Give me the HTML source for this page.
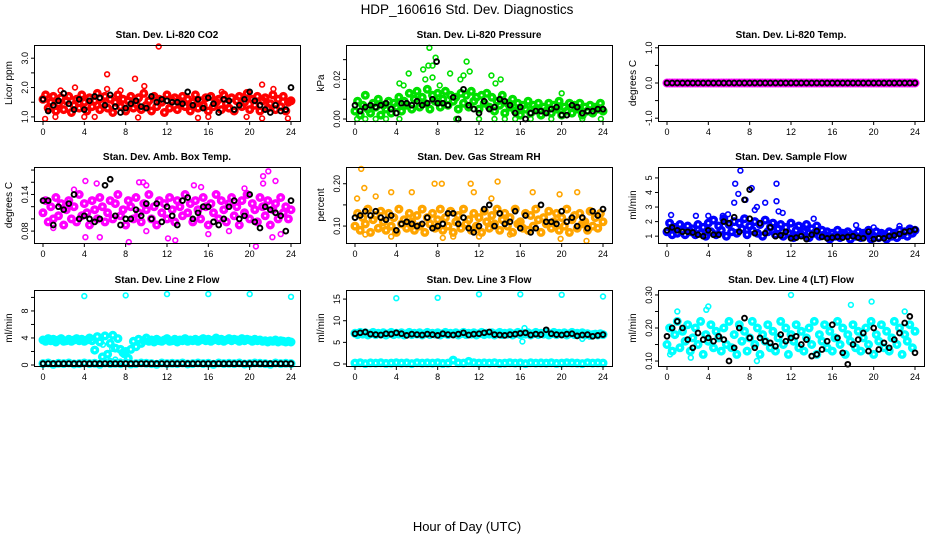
<!DOCTYPE html>
<html><head><meta charset="utf-8"><style>
html,body{margin:0;padding:0;background:#fff;}
svg{display:block;font-family:"Liberation Sans",Arial,sans-serif;}
</style></head><body>
<svg id="chart" width="936" height="540" viewBox="0 0 936 540">
<text x="467" y="14" text-anchor="middle" font-size="13.5">HDP_160616  Std. Dev. Diagnostics</text>
<text x="467" y="531" text-anchor="middle" font-size="13">Hour of Day (UTC)</text>
</svg>
<script>
// ---- data arrays (dense series are evenly spaced over 0-24 h) ----
const xTicks = [0,4,8,12,16,20,24];

const co2Color = [1.6,1.75,1.3,1.5,1.7,1.2,1.45,1.65,1.25,1.55,1.7,1.15,1.4,1.6,1.3,1.75,1.5,1.2,1.65,1.35,1.55,1.8,1.25,1.45,1.7,1.3,1.6,1.15,1.5,1.75,1.35,1.6,1.2,1.55,1.7,1.3,1.45,1.65,1.25,1.8,1.4,1.55,1.2,1.7,1.35,1.6,1.5,1.15,1.75,1.3,1.55,1.65,1.25,1.45,1.7,1.35,1.6,1.2,1.5,1.75,1.3,1.55,1.4,1.65,1.2,1.7,1.35,1.5,1.6,1.25,1.75,1.45,1.3,1.65,1.2,1.55,1.7,1.35,1.5,1.8,1.25,1.6,1.4,1.7,1.2,1.55,1.65,1.3,1.45,1.75,1.25,1.6,1.35,1.7,1.2,1.5,1.55];
const co2Black = [1.6,1.2,1.4,1.55,1.8,1.45,1.25,1.6,1.25,1.55,1.7,1.65,1.4,1.75,1.35,1.15,1.3,1.45,1.55,1.35,1.3,1.7,1.5,1.6,1.55,1.5,1.5,1.45,1.85,1.4,1.6,1.3,1.65,1.45,1.15,1.6,1.55,1.25,1.4,1.6,1.85,1.55,1.4,1.25,1.15,1.4,1.2,1.25,2.0];
const co2Extra = [[6.2,2.45],[6.2,1.95],[8.9,2.3],[11.2,3.4],[9.8,2.05],[3.1,2.0],[0.2,0.93],[21.2,2.1],[22.3,1.95],[1.7,1.9],[7.5,1.9],[17.3,1.85],[4,1.0],[5,1.0],[9.2,0.98],[15,0.97],[21.2,0.95],[23.7,0.95],[1.2,1.0],[19.7,1.0],[16,1.0]];

const presColor = [0.004,0.009,0.002,0.007,0.012,0.005,0.003,0.008,0.006,0.01,0.002,0.007,0.005,0.009,0.003,0.008,0.006,0.011,0.004,0.009,0.007,0.013,0.005,0.01,0.014,0.006,0.011,0.008,0.015,0.005,0.012,0.009,0.013,0.006,0.01,0.014,0.007,0.012,0.009,0.011,0.005,0.013,0.008,0.012,0.006,0.014,0.009,0.011,0.005,0.012,0.008,0.013,0.006,0.011,0.004,0.009,0.007,0.012,0.003,0.008,0.006,0.01,0.004,0.008,0.002,0.007,0.005,0.009,0.003,0.007,0.005,0.008,0.002,0.006,0.004,0.008,0.003,0.007,0.005,0.009,0.002,0.006,0.004,0.008,0.003,0.007,0.005,0.008,0.002,0.006,0.004,0.007,0.003,0.006,0.005,0.008,0.004];
const presBlack = [0.007,0.004,0.006,0.007,0.006,0.007,0.008,0.005,0.003,0.008,0.008,0.007,0.009,0.007,0.008,0.01,0.008,0.008,0.007,0.011,0,0.015,0.007,0.005,0.003,0.009,0.005,0.006,0.01,0.009,0.007,0.003,0.006,0,0.003,0.004,0.004,0.003,0.005,0.006,0.002,0.002,0.007,0.006,0.003,0.004,0.004,0.005,0.005];
const presExtra = [[7.2,0.036],[7.8,0.031],[7.5,0.027],[7.1,0.027],[6.6,0.025],[5.2,0.023],[9.2,0.023],[10.8,0.029],[11.1,0.024],[10.5,0.022],[10.2,0.02],[13.2,0.022],[14.1,0.02],[13.6,0.018],[4.3,0.018],[4.7,0.017],[8.2,0.017],[20,0.013],[6.8,0.02],[7.5,0.021],[0.2,0],[1,0],[2,0],[3,0],[4.3,0],[12,0],[13.5,0],[14.5,0],[15.5,0],[17,0],[19,0],[22,0],[23.8,0],[9.8,0]];
const presBlackExtra = [[7.9,0.029]];

const tempColor = [0,0,0,0,0,0,0,0,0,0,0,0,0,0,0,0,0,0,0,0,0,0,0,0,0,0,0,0,0,0,0,0,0,0,0,0,0,0,0,0,0,0,0,0,0,0,0,0,0,0,0,0,0,0,0,0,0,0,0,0,0,0,0,0,0,0,0,0,0,0,0,0,0,0,0,0,0,0,0,0,0,0,0,0,0,0,0,0,0,0,0,0,0,0,0,0,0];
const tempBlack = [0,0,0,0,0,0,0,0,0,0,0,0,0,0,0,0,0,0,0,0,0,0,0,0,0,0,0,0,0,0,0,0,0,0,0,0,0,0,0,0,0,0,0,0,0,0,0,0,0];

const ambColor = [0.11,0.13,0.095,0.12,0.1,0.135,0.105,0.125,0.09,0.115,0.13,0.1,0.12,0.095,0.14,0.105,0.125,0.11,0.09,0.13,0.115,0.1,0.135,0.12,0.095,0.11,0.13,0.1,0.125,0.14,0.105,0.115,0.09,0.13,0.12,0.1,0.135,0.11,0.095,0.125,0.115,0.14,0.1,0.12,0.09,0.13,0.11,0.125,0.1,0.135,0.115,0.095,0.13,0.12,0.105,0.14,0.11,0.125,0.095,0.13,0.115,0.1,0.135,0.12,0.09,0.125,0.11,0.14,0.1,0.13,0.115,0.095,0.125,0.135,0.105,0.12,0.09,0.13,0.11,0.14,0.1,0.125,0.115,0.095,0.135,0.12,0.105,0.13,0.09,0.115,0.125,0.1,0.135,0.11,0.12,0.1,0.115];
const ambBlack = [0.13,0.13,0.09,0.12,0.115,0.125,0.14,0.1,0.105,0.1,0.095,0.1,0.155,0.165,0.105,0.09,0.1,0.1,0.115,0.105,0.125,0.1,0.125,0.095,0.12,0.105,0.09,0.13,0.135,0.1,0.11,0.12,0.12,0.095,0.09,0.1,0.12,0.13,0.1,0.105,0.14,0.095,0.085,0.12,0.115,0.11,0.105,0.08,0.13];
const ambExtra = [[4.1,0.162],[5.2,0.158],[3.0,0.148],[10,0.155],[9.3,0.16],[9.7,0.16],[14.6,0.155],[15.3,0.152],[19.5,0.15],[22.5,0.162],[21.3,0.17],[21.8,0.178],[21.3,0.158],[8.3,0.062],[12.1,0.068],[12.8,0.065],[20.6,0.055],[22.2,0.07],[4.1,0.07],[5.5,0.07],[23,0.075],[1,0.085],[10,0.08],[16,0.075],[18,0.08]];

const rhColor = [0.1,0.13,0.09,0.12,0.105,0.14,0.085,0.115,0.125,0.095,0.135,0.11,0.09,0.13,0.1,0.12,0.085,0.14,0.105,0.115,0.095,0.13,0.11,0.09,0.125,0.1,0.14,0.085,0.12,0.105,0.13,0.095,0.115,0.14,0.09,0.12,0.1,0.135,0.085,0.11,0.125,0.095,0.14,0.105,0.115,0.09,0.13,0.1,0.12,0.085,0.135,0.11,0.095,0.125,0.105,0.14,0.09,0.115,0.13,0.1,0.12,0.085,0.14,0.105,0.11,0.095,0.13,0.09,0.125,0.1,0.14,0.115,0.085,0.12,0.105,0.135,0.095,0.11,0.13,0.09,0.12,0.1,0.14,0.085,0.115,0.125,0.095,0.13,0.105,0.11,0.09,0.135,0.1,0.12,0.095,0.13,0.11];
const rhBlack = [0.12,0.125,0.135,0.125,0.135,0.12,0.115,0.125,0.09,0.105,0.11,0.105,0.1,0.105,0.12,0.095,0.1,0.105,0.13,0.13,0.105,0.12,0.095,0.085,0.1,0.14,0.15,0.1,0.13,0.105,0.11,0.135,0.095,0.125,0.085,0.095,0.15,0.11,0.11,0.105,0.135,0.11,0.12,0.1,0.12,0.095,0.135,0.125,0.14];
const rhExtra = [[0.6,0.235],[0.2,0.165],[0.9,0.19],[2,0.17],[3.5,0.18],[5.5,0.18],[7.7,0.2],[8.4,0.2],[11.2,0.2],[13.8,0.205],[11.5,0.18],[13.2,0.165],[19.8,0.175],[17.2,0.18],[21.5,0.18],[1,0.08],[3.5,0.075],[8.5,0.072],[12,0.075],[19.9,0.07],[22.4,0.065],[15,0.08],[9.5,0.075]];

const flowColor = [1.3,1.9,1.1,1.6,1.2,1.8,1.4,1.1,1.7,1.3,1.5,1.1,1.8,1.2,1.6,1.0,1.9,1.3,2.1,1.1,1.7,1.4,2.2,1.0,1.8,1.3,2.0,1.2,1.9,1.5,2.2,1.1,1.7,1.4,2.0,1.2,1.8,1.0,2.1,1.3,1.6,1.9,1.1,1.5,1.8,1.0,1.6,1.2,1.9,0.9,1.4,1.7,1.1,1.3,1.8,0.9,1.5,1.2,1.7,1.0,1.4,1.1,1.3,0.8,1.2,1.0,1.4,0.9,1.2,1.1,1.3,0.8,1.1,1.0,1.3,0.9,1.2,1.1,1.4,0.8,1.0,1.3,0.9,1.2,1.1,0.8,1.3,1.0,1.2,0.9,1.4,1.1,1.3,1.0,1.5,1.2,1.4];
const flowBlack = [1.4,1.6,1.4,1.3,1.3,1.25,1.1,1.0,1.4,1.1,1.1,2.0,1.9,2.3,1.3,3.5,2.2,1.2,1.9,1.2,1.6,1.0,1.05,1.3,0.85,0.9,1.0,0.8,1.1,1.35,0.95,0.85,0.9,0.95,0.9,0.95,1.0,0.9,0.85,1.3,0.8,0.85,0.85,1.0,1.05,1.15,1.3,1.35,1.45];
const flowExtra = [[7.1,5.5],[6.6,4.6],[10.6,4.6],[6.9,3.9],[8.2,4.3],[6.5,3.3],[7.6,3.5],[8.7,3.0],[10.6,3.4],[9.5,3.3],[11.2,2.6],[10.8,2.7],[8.5,2.8],[0.4,2.45],[2.8,2.4],[4.0,2.4],[5.4,2.4],[5.9,2.5],[14.2,2.2],[18.3,1.75],[20,1.6],[22.5,1.7]];
const flowBlackExtra = [[8,4.2]];

const line2Color = [3.7,3.5,3.9,3.6,3.8,3.4,3.7,3.9,3.5,3.6,3.8,3.5,3.7,3.9,3.6,3.8,3.5,3.7,4.0,3.6,2.2,4.2,3.4,1.2,4.3,1.6,3.2,4.4,2.5,3.9,2.3,1.8,2.0,1.0,2.3,3.5,2.7,3.8,3.2,3.6,4.0,3.5,3.7,3.4,3.8,3.6,3.5,3.7,3.9,3.5,3.6,3.8,3.4,3.7,3.6,3.9,3.5,3.7,3.6,3.8,3.5,3.7,3.9,3.6,3.8,3.5,3.7,4.0,3.6,3.8,3.5,3.7,3.9,3.6,3.8,3.7,3.5,3.9,3.6,3.8,3.7,3.5,3.8,3.6,3.7,3.5,3.6,3.4,3.6,3.5,3.7,3.4,3.6,3.5,3.4,3.5,3.4];
const line2Low = [0.2,0.3,0.1,0.25,0.2,0.3,0.15,0.2,0.3,0.2,0.25,0.1,0.3,0.2,0.25,0.2,0.3,0.15,0.2,0.3,0.25,0.2,0.1,0.3,0.2,0.25,0.2,0.3,0.15,0.2,0.3,0.2,0.25,0.1,0.3,0.2,0.25,0.2,0.3,0.15,0.2,0.3,0.25,0.2,0.1,0.3,0.2,0.25,0.2];
const line2Black = [0.2,0.2,0.2,0.2,0.2,0.2,0.2,0.2,0.2,0.2,0.2,0.2,0.2,0.2,0.2,0.2,0.2,0.2,0.2,0.2,0.2,0.2,0.2,0.2,0.2,0.2,0.2,0.2,0.2,0.2,0.2,0.2,0.2,0.2,0.2,0.2,0.2,0.2,0.2,0.2,0.2,0.2,0.2,0.2,0.2,0.2,0.2,0.2,0.2];
const line2Extra = [[4,10.2],[8,10.3],[12,10.5],[16,10.5],[20,10.5],[24,10.1],[6.5,0.6],[7,0.8],[7.5,0.5],[6,0.4],[7.8,1.5],[8.2,0.9],[5.8,3.0],[6.7,2.4]];

const line3Color = [7.1,6.8,7.3,6.9,7.2,6.7,7.0,7.3,6.8,7.1,6.9,7.2,6.7,7.0,7.3,6.8,7.1,6.9,7.2,6.7,7.0,7.3,6.8,7.1,6.9,7.2,6.7,7.0,7.3,6.8,7.1,6.9,7.2,6.7,7.0,7.3,6.8,7.1,6.9,7.2,6.7,7.0,7.3,6.8,7.1,6.9,7.2,6.7,7.0,7.3,6.8,7.1,6.9,7.2,6.7,7.0,7.3,6.8,7.1,6.9,7.2,6.7,7.0,7.3,6.8,7.1,6.9,7.2,6.7,7.0,7.3,6.8,7.1,6.9,7.2,6.7,7.0,7.3,6.8,7.1,6.9,7.2,6.7,7.0,7.3,6.8,7.1,6.9,7.2,6.7,7.0,6.6,6.8,6.9,6.7,7.0,6.8];
const line3Low = [0.2,0.3,0.1,0.25,0.2,0.3,0.15,0.2,0.3,0.2,0.25,0.1,0.3,0.2,0.25,0.2,0.3,0.15,0.2,0.9,0.25,0.2,0.6,0.3,0.2,0.25,0.2,0.3,0.15,0.2,0.3,0.2,0.25,0.1,0.3,0.2,0.25,0.2,0.3,0.15,0.2,0.3,0.25,0.2,0.1,0.3,0.2,0.25,0.2];
const line3Black = [7.0,7.2,7.4,6.9,6.8,6.7,7.0,6.9,7.2,7.0,6.6,6.9,6.8,6.7,6.9,6.8,6.6,7.0,6.8,6.7,6.9,7.2,6.7,6.9,7.0,7.2,7.4,6.8,6.7,6.6,6.8,6.9,7.1,7.2,6.7,6.9,6.8,7.9,7.0,6.8,6.7,6.9,7.0,6.5,6.7,6.8,6.4,6.6,6.8];
const line3Extra = [[4,15.2],[8,15.3],[12,16.1],[16,16.1],[20,16.0],[24,15.6],[16.2,5.2],[16.4,8.3],[22,5.8]];

const line4Color = [0.15,0.2,0.13,0.18,0.22,0.14,0.19,0.16,0.21,0.13,0.17,0.2,0.15,0.22,0.12,0.18,0.16,0.21,0.14,0.19,0.17,0.13,0.2,0.15,0.22,0.14,0.18,0.12,0.21,0.16,0.19,0.13,0.17,0.22,0.15,0.2,0.12,0.18,0.16,0.21,0.14,0.19,0.13,0.17,0.22,0.15,0.2,0.12,0.18,0.16,0.21,0.14,0.19,0.13,0.17,0.2,0.15,0.22,0.12,0.18,0.16,0.21,0.14,0.19,0.13,0.17,0.22,0.15,0.2,0.12,0.18,0.16,0.21,0.14,0.19,0.13,0.17,0.2,0.15,0.22,0.12,0.18,0.16,0.21,0.14,0.19,0.13,0.17,0.22,0.15,0.2,0.12,0.18,0.16,0.21,0.14,0.19];
const line4Black = [0.175,0.2,0.22,0.2,0.165,0.14,0.185,0.165,0.17,0.16,0.175,0.165,0.1,0.14,0.2,0.23,0.17,0.14,0.17,0.16,0.155,0.145,0.18,0.16,0.17,0.175,0.15,0.165,0.115,0.12,0.135,0.16,0.21,0.17,0.125,0.09,0.15,0.165,0.185,0.13,0.2,0.135,0.155,0.14,0.165,0.185,0.215,0.235,0.125];
const line4Extra = [[12,0.30],[19.8,0.28],[17.8,0.27],[4,0.265],[3.8,0.255],[23,0.25],[1.0,0.25],[8.7,0.1],[0.3,0.12],[2.3,0.11]];

// ---- layout ----
const NS = 'http://www.w3.org/2000/svg';
const svg = document.getElementById('chart');
const COLS = [34, 346, 658], ROWS = [45, 167, 290], W = 266, H = 76;

const panels = [
 {name:'co2', title:'Stan. Dev. Li-820 CO2', ylab:'Licor ppm', ylim:[0.86,3.45], ticks:[1,1.5,2,2.5,3], labs:{1:'1.0',2:'2.0',3:'3.0'}, col:'#ff0000', dense:[co2Color], extra:co2Extra, black:co2Black, bextra:[]},
 {name:'pressure', title:'Stan. Dev. Li-820 Pressure', ylab:'kPa', ylim:[-0.001,0.0374], ticks:[0,0.01,0.02,0.03], labs:{0:'0.00',0.02:'0.02'}, col:'#00e000', dense:[presColor], extra:presExtra, black:presBlack, bextra:presBlackExtra},
 {name:'li820-temp', title:'Stan. Dev. Li-820 Temp.', ylab:'degrees C', ylim:[-1.08,1.08], ticks:[-1,-0.5,0,0.5,1], labs:{'-1':'-1.0',0:'0.0',1:'1.0'}, col:'#ff00ff', dense:[tempColor], extra:[], black:tempBlack, bextra:[]},
 {name:'amb-box-temp', title:'Stan. Dev. Amb. Box Temp.', ylab:'degrees C', ylim:[0.0605,0.185], ticks:[0.08,0.1,0.12,0.14,0.16,0.18], labs:{0.08:'0.08',0.14:'0.14'}, col:'#ff00ff', dense:[ambColor], extra:ambExtra, black:ambBlack, bextra:[]},
 {name:'gas-stream-rh', title:'Stan. Dev. Gas Stream RH', ylab:'percent', ylim:[0.06,0.2395], ticks:[0.1,0.15,0.2], labs:{0.1:'0.10',0.2:'0.20'}, col:'#ffa500', dense:[rhColor], extra:rhExtra, black:rhBlack, bextra:[]},
 {name:'sample-flow', title:'Stan. Dev. Sample Flow', ylab:'ml/min', ylim:[0.53,5.75], ticks:[1,2,3,4,5], labs:{1:'1',2:'2',3:'3',4:'4',5:'5'}, col:'#0000ff', dense:[flowColor], extra:flowExtra, black:flowBlack, bextra:flowBlackExtra},
 {name:'line2-flow', title:'Stan. Dev. Line 2 Flow', ylab:'ml/min', ylim:[-0.15,11.1], ticks:[0,2,4,6,8,10], labs:{0:'0',4:'4',8:'8'}, col:'#00ffff', dense:[line2Color,line2Low], extra:line2Extra, black:line2Black, bextra:[]},
 {name:'line3-flow', title:'Stan. Dev. Line 3 Flow', ylab:'ml/min', ylim:[-0.46,17.1], ticks:[0,5,10,15], labs:{0:'0',5:'5',10:'10',15:'15'}, col:'#00ffff', dense:[line3Color,line3Low], extra:line3Extra, black:line3Black, bextra:[]},
 {name:'line4-flow', title:'Stan. Dev. Line 4 (LT) Flow', ylab:'ml/min', ylim:[0.085,0.315], ticks:[0.1,0.15,0.2,0.25,0.3], labs:{0.1:'0.10',0.2:'0.20',0.3:'0.30'}, col:'#00ffff', dense:[line4Color], extra:line4Extra, black:line4Black, bextra:[]}
];

function mk(tag, attrs, parent){
  const el = document.createElementNS(NS, tag);
  for (const k in attrs) el.setAttribute(k, attrs[k]);
  parent.appendChild(el);
  return el;
}

panels.forEach((p, idx) => {
  const L = COLS[idx % 3], T = ROWS[Math.floor(idx / 3)];
  const xs = h => L + 9 + h * (W - 18) / 24;
  const ys = v => T + H - (v - p.ylim[0]) / (p.ylim[1] - p.ylim[0]) * H;
  const g = mk('g', {}, svg);
  
  

  const title = mk('text', {x: L + W/2, y: T - 7, 'text-anchor':'middle', 'font-size':'10', 'font-weight':'bold'}, g);
  title.textContent = p.title;
  
  

  const yl = mk('text', {x: 0, y: 0, 'text-anchor':'middle', 'font-size':'10', transform:`translate(${L-22},${T+H/2}) rotate(-90)`}, g);
  yl.textContent = p.ylab;
  
  

  const pts = mk('g', {fill:'none'}, g);
  
  
  const dot = (h, v, color, r, sw, nm) => {
    const c = mk('circle', {cx: xs(h).toFixed(1), cy: ys(v).toFixed(1), r: r, stroke: color, 'stroke-width': sw}, pts);
    
    
  };
  p.dense.forEach(arr => arr.forEach((v, i) => dot(i * 24 / (arr.length - 1), v, p.col, 2.8, 3.4, 'point')));
  p.extra.forEach(d => dot(d[0], d[1], p.col, 2.4, 1.6, 'point'));
  p.black.forEach((v, i) => dot(i * 24 / (p.black.length - 1), v, '#000', 2.4, 1.9, 'point-black'));
  p.bextra.forEach(d => dot(d[0], d[1], '#000', 2.4, 1.9, 'point-black'));

  const box = mk('rect', {x: L + 0.5, y: T + 0.5, width: W, height: H, fill:'none', stroke:'#000', 'stroke-width':1}, g);
  
  

  const xa = mk('g', {}, g);
  
  
  xTicks.forEach(t => {
    const x = xs(t);
    mk('line', {x1:x, x2:x, y1:T+H, y2:T+H+4, stroke:'#000'}, xa);
    const tx = mk('text', {x:x, y:T+H+14, 'text-anchor':'middle', 'font-size':'9'}, xa);
    tx.textContent = t;
    
    
  });

  const ya = mk('g', {}, g);
  
  
  p.ticks.forEach(t => {
    const y = ys(t);
    mk('line', {x1:L-3, x2:L, y1:y, y2:y, stroke:'#000'}, ya);
    const lab = p.labs[t];
    if (lab !== undefined) {
      const tx = mk('text', {x:0, y:0, 'text-anchor':'middle', 'font-size':'9', transform:`translate(${L-6},${y}) rotate(-90)`}, ya);
      tx.textContent = lab;
      
      
    }
  });
});
</script>
</body></html>
